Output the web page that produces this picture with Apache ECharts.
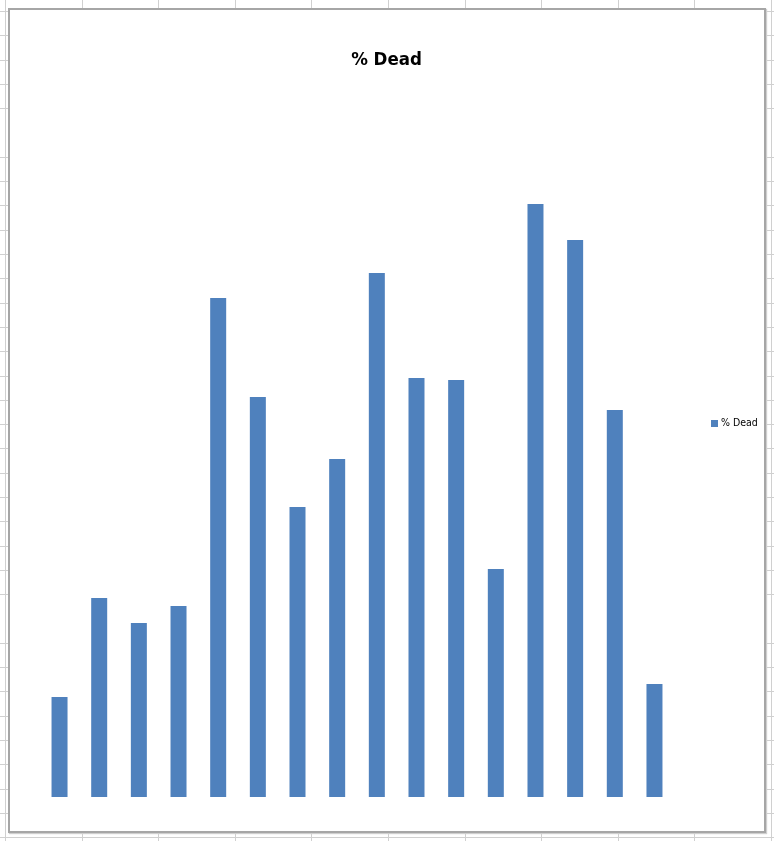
<!DOCTYPE html>
<html>
<head>
<meta charset="utf-8">
<script src="https://cdn.jsdelivr.net/npm/echarts@6/dist/echarts.min.js"></script>
<style>
  html, body { margin: 0; padding: 0; width: 774px; height: 841px; overflow: hidden; }
  body {
    background-color: #ffffff;
    background-image:
      repeating-linear-gradient(to right, transparent 0, transparent 5px, #d0d0d0 5px, #d0d0d0 6px, transparent 6px, transparent 76.6px),
      repeating-linear-gradient(to bottom, transparent 0, transparent 11px, #d0d0d0 11px, #d0d0d0 12px, transparent 12px, transparent 24.3px);
    background-position: 0 0, 0 0;
  }
  #frame {
    position: absolute; left: 8px; top: 8px; width: 754px; height: 821px;
    background: #ffffff; border: 2px solid #a6a6a6;
    box-shadow: 1px 1px 1px #cfcfcf;
  }
  #chart { position: absolute; left: 0; top: 0; width: 774px; height: 841px; }
</style>
</head>
<body>
<div id="frame"></div>
<div id="chart"></div>
<script>
// Data (hidden value axis, estimated scale)
const categories = ["1","2","3","4","5","6","7","8","9","10","11","12","13","14","15","16"];
const seriesName = "% Dead";
const deadValues = [10.0, 19.9, 17.4, 19.1, 49.9, 40.0, 29.0, 33.8, 52.4, 41.9, 41.7, 22.8, 59.3, 55.7, 38.7, 11.3];
const axisMax = 70;

const chart = echarts.init(document.getElementById('chart'), null, { renderer: 'canvas' });
chart.setOption({
  backgroundColor: 'transparent',
  animation: false,
  title: {
    text: '% Dead',
    left: 381.5, top: 46, textAlign: 'center',
    textStyle: { fontFamily: 'DejaVu Sans Condensed', fontWeight: 'bold', fontSize: 18.5, color: '#000' }
  },
  legend: {
    data: [seriesName],
    left: 706, top: 413,
    itemWidth: 7, itemHeight: 7, itemGap: 4,
    icon: 'rect',
    textStyle: { fontFamily: 'DejaVu Sans Condensed', fontSize: 10.5, color: '#000', padding: [0,0,0,-2] }
  },
  grid: { left: 39.7, top: 97, width: 634.6, height: 700, containLabel: false },
  xAxis: {
    type: 'category', data: categories,
    axisLine: { show: false }, axisTick: { show: false }, axisLabel: { show: false },
    splitLine: { show: false }
  },
  yAxis: {
    type: 'value', min: 0, max: axisMax,
    axisLine: { show: false }, axisTick: { show: false }, axisLabel: { show: false },
    splitLine: { show: false }
  },
  series: [{
    name: seriesName, type: 'bar', data: deadValues,
    barWidth: 16,
    itemStyle: { color: '#4f81bd' }
  }]
});
</script>
</body>
</html>
